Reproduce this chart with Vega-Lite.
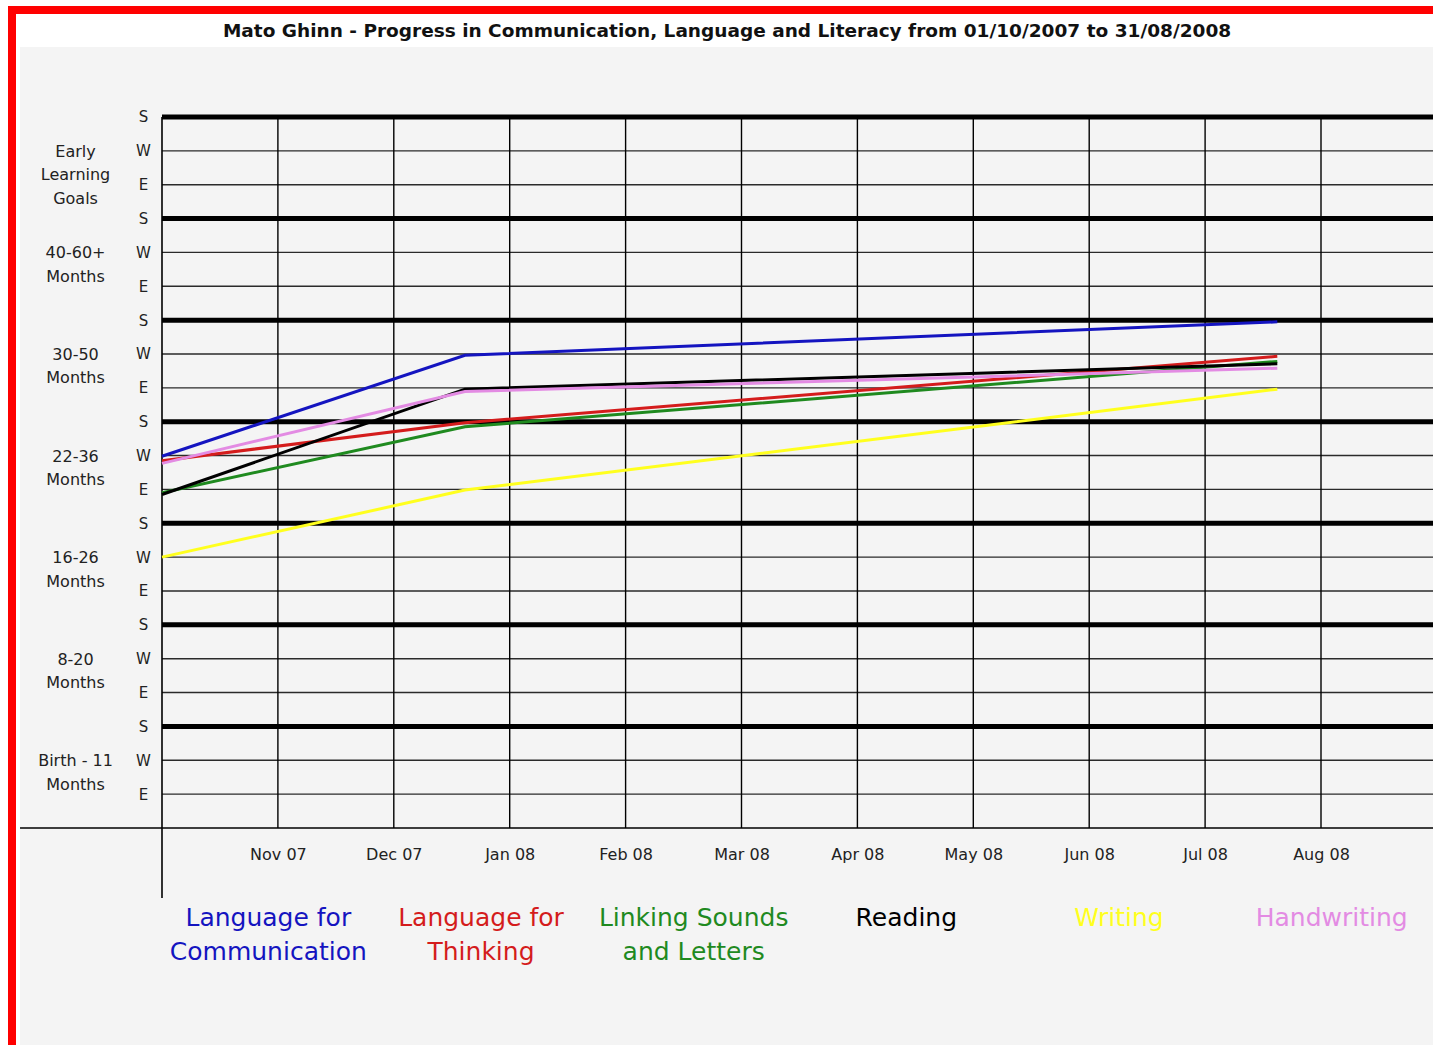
{
  "$schema": "https://vega.github.io/schema/vega-lite/v6.json",
  "autosize": {"type": "none"},
  "padding": {"left": 12, "top": 10, "right": 0, "bottom": 0},
  "width": 1430,
  "height": 1040,
  "background": "#ffffff",
  "config": {
    "view": {"fill": "#ffffff", "stroke": "#ff0000", "strokeWidth": 8},
    "font": "DejaVu Sans"
  },
  "title": {
    "text": "Mato Ghinn - Progress in Communication, Language and Literacy from 01/10/2007 to 31/08/2008",
    "font": "DejaVu Sans",
    "fontSize": 18.5,
    "fontWeight": "bold",
    "color": "#111111",
    "anchor": "middle",
    "frame": "group",
    "baseline": "middle",
    "offset": -39
  },
  "datasets": {
    "progress": [
      {"series": "Language for Communication", "m": 0, "level": 10.98},
      {"series": "Language for Communication", "m": 2.614, "level": 13.96},
      {"series": "Language for Communication", "m": 9.623, "level": 14.95},
      {"series": "Language for Thinking", "m": 0, "level": 10.85},
      {"series": "Language for Thinking", "m": 2.614, "level": 11.97},
      {"series": "Language for Thinking", "m": 9.623, "level": 13.93},
      {"series": "Linking Sounds and Letters", "m": 0, "level": 9.9},
      {"series": "Linking Sounds and Letters", "m": 2.614, "level": 11.85},
      {"series": "Linking Sounds and Letters", "m": 9.623, "level": 13.78},
      {"series": "Reading", "m": 0, "level": 9.85},
      {"series": "Reading", "m": 2.614, "level": 12.96},
      {"series": "Reading", "m": 9.623, "level": 13.71},
      {"series": "Writing", "m": 0, "level": 8.0},
      {"series": "Writing", "m": 2.614, "level": 9.98},
      {"series": "Writing", "m": 9.623, "level": 12.96},
      {"series": "Handwriting", "m": 0, "level": 10.77},
      {"series": "Handwriting", "m": 2.614, "level": 12.89},
      {"series": "Handwriting", "m": 9.623, "level": 13.58}
    ],
    "hlines": [
      {"level": 0}, {"level": 1}, {"level": 2}, {"level": 3}, {"level": 4}, {"level": 5},
      {"level": 6}, {"level": 7}, {"level": 8}, {"level": 9}, {"level": 10}, {"level": 11},
      {"level": 12}, {"level": 13}, {"level": 14}, {"level": 15}, {"level": 16}, {"level": 17},
      {"level": 18}, {"level": 19}, {"level": 20}, {"level": 21}
    ],
    "vlines": [
      {"m": 0}, {"m": 1}, {"m": 2}, {"m": 3}, {"m": 4}, {"m": 5},
      {"m": 6}, {"m": 7}, {"m": 8}, {"m": 9}, {"m": 10}, {"m": 11}
    ],
    "bands": [
      {"band": "Early\nLearning\nGoals", "w": 20},
      {"band": "40-60+\nMonths", "w": 17},
      {"band": "30-50\nMonths", "w": 14},
      {"band": "22-36\nMonths", "w": 11},
      {"band": "16-26\nMonths", "w": 8},
      {"band": "8-20\nMonths", "w": 5},
      {"band": "Birth - 11\nMonths", "w": 2}
    ],
    "legend": [
      {"series": "Language for Communication", "label": "Language for\nCommunication"},
      {"series": "Language for Thinking", "label": "Language for\nThinking"},
      {"series": "Linking Sounds and Letters", "label": "Linking Sounds\nand Letters"},
      {"series": "Reading", "label": "Reading"},
      {"series": "Writing", "label": "Writing"},
      {"series": "Handwriting", "label": "Handwriting"}
    ],
    "panel": [{"panel": "body"}]
  },
  "resolve": {"scale": {"x": "independent"}},
  "layer": [
    {
      "layer": [
        {
          "data": {"name": "panel"},
          "mark": {"type": "rect", "color": "#f4f4f4"},
          "encoding": {
            "x": {"datum": -1.225, "type": "quantitative", "scale": {"domain": [-1.2942, 11.044], "nice": false, "zero": false}, "title": null},
            "x2": {"datum": 11.2},
            "y": {"datum": 23.068, "type": "quantitative", "scale": {"domain": [-6.557, 24.16], "nice": false, "zero": false}, "title": null},
            "y2": {"datum": -6.7}
          }
        },
        {
          "data": {"name": "hlines"},
          "transform": [{"filter": "datum.level > 0"}],
          "mark": {"type": "rule"},
          "encoding": {
            "y": {
              "field": "level", "type": "quantitative", "title": null,
              "axis": {
                "values": [1,2,3,4,5,6,7,8,9,10,11,12,13,14,15,16,17,18,19,20,21],
                "labelExpr": "['S','E','W'][datum.value % 3]",
                "offset": -150,
                "domain": false, "ticks": false, "tickSize": 0, "grid": false,
                "labelPadding": 19, "labelAlign": "center", "labelBaseline": "middle",
                "labelFontSize": 15, "labelColor": "#222222", "labelFont": "DejaVu Sans",
                "labelOverlap": false, "labelFlush": false, "zindex": 2, "title": null
              }
            },
            "x": {"datum": 0, "type": "quantitative"},
            "x2": {"datum": 11.2},
            "strokeWidth": {"condition": {"test": "datum.level % 3 === 0", "value": 5}, "value": 1.4},
            "stroke": {"condition": {"test": "datum.level % 3 === 0", "value": "#000000"}, "value": "#2a2a2a"}
          }
        },
        {
          "data": {"name": "hlines"},
          "transform": [{"filter": "datum.level == 0"}],
          "mark": {"type": "rule", "color": "#000000", "strokeWidth": 1.5},
          "encoding": {
            "y": {"field": "level", "type": "quantitative", "title": null},
            "x": {"datum": -1.225, "type": "quantitative"},
            "x2": {"datum": 11.2}
          }
        },
        {
          "data": {"name": "vlines"},
          "transform": [{"filter": "datum.m > 0"}],
          "mark": {"type": "rule", "color": "#000000", "strokeWidth": 1.4},
          "encoding": {
            "x": {
              "field": "m", "type": "quantitative", "title": null,
              "axis": {
                "values": [1,2,3,4,5,6,7,8,9,10],
                "labelExpr": "['Oct 07','Nov 07','Dec 07','Jan 08','Feb 08','Mar 08','Apr 08','May 08','Jun 08','Jul 08','Aug 08','Sep 08'][datum.value]",
                "offset": -222,
                "domain": false, "ticks": false, "tickSize": 0, "grid": false,
                "labelPadding": 18, "labelAlign": "center", "labelBaseline": "top",
                "labelFontSize": 16, "labelColor": "#222222", "labelFont": "DejaVu Sans",
                "labelOverlap": false, "labelFlush": false, "zindex": 2, "title": null
              }
            },
            "y": {"datum": 0, "type": "quantitative"},
            "y2": {"datum": 21}
          }
        },
        {
          "data": {"name": "vlines"},
          "transform": [{"filter": "datum.m == 0"}],
          "mark": {"type": "rule", "color": "#000000", "strokeWidth": 1.6},
          "encoding": {
            "x": {"field": "m", "type": "quantitative", "title": null},
            "y": {"datum": -2.067, "type": "quantitative"},
            "y2": {"datum": 21}
          }
        },
        {
          "data": {"name": "progress"},
          "mark": {"type": "line", "strokeWidth": 3},
          "encoding": {
            "x": {"field": "m", "type": "quantitative", "title": null},
            "y": {"field": "level", "type": "quantitative", "title": null},
            "color": {
              "field": "series", "type": "nominal", "legend": null,
              "scale": {
                "domain": ["Language for Communication", "Language for Thinking", "Linking Sounds and Letters", "Reading", "Writing", "Handwriting"],
                "range": ["#1414c0", "#d41c1c", "#1f8a1f", "#000000", "#ffff1e", "#e38be3"]
              }
            }
          }
        },
        {
          "data": {"name": "bands"},
          "mark": {"type": "text", "align": "center", "baseline": "top", "dy": -7, "fontSize": 16, "lineBreak": "\n", "lineHeight": 23.5, "color": "#222222", "font": "DejaVu Sans"},
          "encoding": {
            "x": {"datum": -0.746, "type": "quantitative"},
            "y": {"field": "w", "type": "quantitative", "title": null},
            "text": {"field": "band", "type": "nominal"}
          }
        }
      ]
    },
    {
      "data": {"name": "legend"},
      "mark": {"type": "text", "align": "center", "baseline": "top", "fontSize": 25, "lineBreak": "\n", "lineHeight": 34, "font": "DejaVu Sans"},
      "encoding": {
        "x": {
          "field": "series", "type": "nominal", "axis": null,
          "scale": {
            "type": "point",
            "domain": ["Language for Communication", "Language for Thinking", "Linking Sounds and Letters", "Reading", "Writing", "Handwriting"],
            "range": [150, 1426],
            "padding": 0.5
          }
        },
        "y": {"datum": -2.29, "type": "quantitative"},
        "color": {"field": "series", "type": "nominal", "legend": null},
        "text": {"field": "label", "type": "nominal"}
      }
    }
  ]
}
